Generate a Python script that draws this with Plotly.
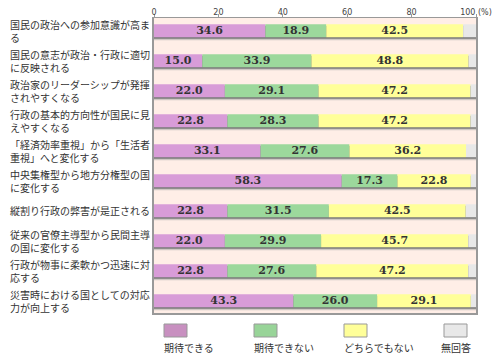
import plotly.graph_objects as go

categories = [
    "国民の政治への参加意識が高ま<br>る",
    "国民の意志が政治・行政に適切<br>に反映される",
    "政治家のリーダーシップが発揮<br>されやすくなる",
    "行政の基本的方向性が国民に見<br>えやすくなる",
    "「経済効率重視」から「生活者<br>重視」へと変化する",
    "中央集権型から地方分権型の国<br>に変化する",
    "縦割り行政の弊害が是正される",
    "従来の官僚主導型から民間主導<br>の国に変化する",
    "行政が物事に柔軟かつ迅速に対<br>応する",
    "災害時における国としての対応<br>力が向上する",
]
series_names = ["期待できる", "期待できない", "どちらでもない", "無回答"]
kitai_dekiru = [34.6, 15.0, 22.0, 22.8, 33.1, 58.3, 22.8, 22.0, 22.8, 43.3]
kitai_dekinai = [18.9, 33.9, 29.1, 28.3, 27.6, 17.3, 31.5, 29.9, 27.6, 26.0]
dochira = [42.5, 48.8, 47.2, 47.2, 36.2, 22.8, 42.5, 45.7, 47.2, 29.1]
mukaitou = [4.0, 2.3, 1.7, 1.7, 3.1, 1.6, 3.2, 2.4, 2.4, 1.6]
tick_vals = [0, 20, 40, 60, 80, 100]
tick_text = ["0", "20", "40", "60", "80", "100 (%)"]

series = [kitai_dekiru, kitai_dekinai, dochira, mukaitou]
bar_colors = ["#D89CD8", "#9CD89C", "#FFFF99", "#E8E8E8"]
legend_colors = ["#C890C0", "#98D498", "#FFFF99", "#E8E8E8"]
show_text = [True, True, True, False]

ypos = list(range(len(categories)))
W = 0.433  # bar thickness in category units (30px per row)
px = 1 / 30.0

fig = go.Figure()

totals = [a + b + c + d for a, b, c, d in zip(*series)]
# soft shadow and dark shadow under each bar
fig.add_trace(go.Bar(y=ypos, x=totals, base=0, orientation="h", width=W,
                     offset=-W / 2 + 3 * px, marker=dict(color="#CFC8C4", line=dict(width=0)),
                     hoverinfo="skip", showlegend=False))
fig.add_trace(go.Bar(y=ypos, x=totals, base=0, orientation="h", width=W,
                     offset=-W / 2 + 1.6 * px, marker=dict(color="#7A7A7A", line=dict(width=0)),
                     hoverinfo="skip", showlegend=False))

cum = [0.0] * len(categories)
for name, vals, col, st in zip(series_names, series, bar_colors, show_text):
    fig.add_trace(go.Bar(
        y=ypos, x=vals, base=list(cum), orientation="h", name=name,
        width=W, offset=-W / 2,
        marker=dict(color=col, line=dict(width=0)),
        text=[f"{v:.1f}" for v in vals] if st else None,
        textposition="inside" if st else "none",
        insidetextanchor="middle",
        constraintext="none",
        textangle=0,
        textfont=dict(family="DejaVu Serif", size=11, color="#333333", weight="bold"),
        showlegend=False,
    ))
    cum = [c + v for c, v in zip(cum, vals)]

FW, FH = 500, 360
L, T = 154, 18
R = FW - 476
B = FH - 313
plot_w = FW - L - R
plot_h = FH - T - B


def xp(px_abs):
    return (px_abs - L) / plot_w


def yp(py_abs):
    return (FH - B - py_abs) / plot_h


annotations = []
for i, lab in enumerate(categories):
    annotations.append(dict(
        x=xp(8), xref="paper", y=i, yref="y",
        text=lab, showarrow=False, xanchor="left", yanchor="middle", align="left",
        font=dict(family="Noto Sans CJK JP", size=10, color="#333333"),
    ))

shapes = []
legend_x = [164, 254, 344, 444]
legend_text_x = [162, 252, 342, 456]
for name, col, lx, tx in zip(series_names, legend_colors, legend_x, legend_text_x):
    shapes.append(dict(
        type="rect", xref="paper", yref="paper",
        x0=xp(lx), x1=xp(lx + 23), y0=yp(324), y1=yp(337),
        fillcolor=col, line=dict(color="#999999", width=1),
    ))
    annotations.append(dict(
        x=xp(tx), xref="paper", y=yp(347), yref="paper",
        text=name, showarrow=False,
        xanchor="center" if name == "無回答" else "left", yanchor="middle",
        font=dict(family="Noto Sans CJK JP", size=10, color="#333333"),
    ))

fig.update_layout(
    width=FW, height=FH,
    margin=dict(l=L, r=R, t=T, b=B, pad=0, autoexpand=False),
    barmode="overlay",
    paper_bgcolor="white",
    plot_bgcolor="#FFEEE7",
    showlegend=False,
    annotations=annotations,
    shapes=shapes,
    xaxis=dict(
        side="top", range=[0, 100], tickvals=tick_vals, ticktext=tick_text,
        showgrid=False, zeroline=False, ticks="outside", ticklen=3, tickcolor="#999999",
        ticklabelstandoff=-5,
        tickfont=dict(family="DejaVu Sans", size=8, color="#444444"),
        showline=True, linecolor="#999999", linewidth=1.5, mirror=True,
        fixedrange=True, automargin=False,
    ),
    yaxis=dict(
        range=[9 + 12.25 / 30, -12.75 / 30], showticklabels=False, showgrid=False,
        zeroline=False, showline=True, linecolor="#999999", linewidth=2, mirror=True,
        fixedrange=True, automargin=False,
    ),
)

fig.write_html(
    "out.html",
    config={"displayModeBar": False, "staticPlot": True},
    post_script="document.body.style.margin='0px';document.body.style.overflow='hidden';",
)
